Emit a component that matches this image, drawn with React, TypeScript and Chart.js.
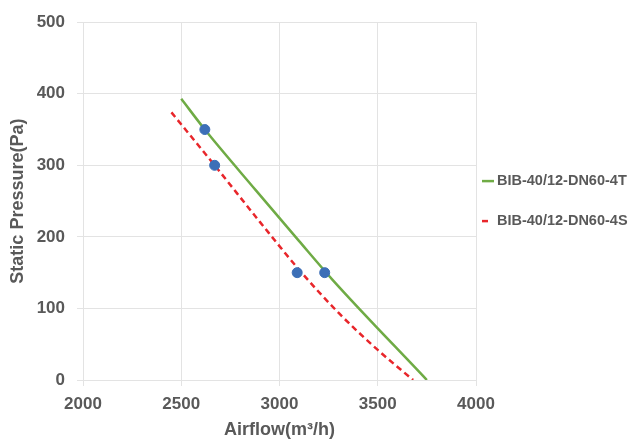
import React, { useEffect, useRef } from "react";
import { Chart, registerables } from "chart.js";

Chart.register(...registerables);

const xTicks = [2000, 2500, 3000, 3500, 4000];
const yTicks = [0, 100, 200, 300, 400, 500];

const seriesNames = ["BIB-40/12-DN60-4T", "BIB-40/12-DN60-4S"];

const flow4T = [2500, 2620, 2880, 3100, 3270, 3750];
const pressure4T = [393, 350, 265, 194, 140, 0];

const flow4S = [2450, 2670, 2900, 3100, 3300, 3500, 3680];
const pressure4S = [374, 300, 221, 154, 94, 42, 0];

const pointFlow = [2620, 2670, 3090, 3230];
const pointPressure = [350, 300, 150, 150];

const GREEN = "#6fab45";
const RED = "#e8262b";
const BLUE = "#3c6fb7";
const TEXT = "#595959";
const GRID = "#e3e3e3";

const toXY = (xs: number[], ys: number[]) => xs.map((x, i) => ({ x, y: ys[i] }));

const legendPlugin = {
  id: "customLegend",
  afterDraw(chart: any) {
    const ctx = chart.ctx;
    const area = chart.chartArea;
    const items = chart.data.datasets.filter((d: any) => d.legendShow);
    const startX = area.right + 6;
    const centerY = (area.top + area.bottom) / 2;
    const gap = 40;
    ctx.save();
    items.forEach((d: any, i: number) => {
      const y = centerY + (i - (items.length - 1) / 2) * gap;
      ctx.strokeStyle = d.borderColor;
      ctx.lineWidth = d.borderWidth;
      ctx.setLineDash(d.borderDash || []);
      ctx.beginPath();
      ctx.moveTo(startX, y);
      ctx.lineTo(startX + (d.borderDash ? 6 : 12), y);
      ctx.stroke();
      ctx.setLineDash([]);
      ctx.fillStyle = TEXT;
      ctx.font = "bold 14.5px 'Liberation Sans', Arial, sans-serif";
      ctx.textBaseline = "middle";
      ctx.textAlign = "left";
      ctx.fillText(d.label, startX + 15, y);
    });
    ctx.restore();
  },
};

export default function App() {
  const ref = useRef<HTMLCanvasElement | null>(null);
  useEffect(() => {
    if (!ref.current) return;
    Chart.defaults.font.family = "'Liberation Sans', Arial, sans-serif";
    const chart = new Chart(ref.current, {
      type: "scatter",
      data: {
        datasets: [
          {
            label: "points",
            data: toXY(pointFlow, pointPressure),
            backgroundColor: BLUE,
            borderColor: BLUE,
            pointRadius: 5,
            pointHoverRadius: 5,
            showLine: false,
            order: 0,
          } as any,
          {
            label: seriesNames[0],
            data: toXY(flow4T, pressure4T),
            borderColor: GREEN,
            borderWidth: 2.5,
            pointRadius: 0,
            showLine: true,
            cubicInterpolationMode: "monotone",
            legendShow: true,
            order: 1,
          } as any,
          {
            label: seriesNames[1],
            data: toXY(flow4S, pressure4S),
            borderColor: RED,
            borderWidth: 2.5,
            borderDash: [6, 4],
            pointRadius: 0,
            showLine: true,
            cubicInterpolationMode: "monotone",
            legendShow: true,
            order: 2,
          } as any,
        ],
      },
      options: {
        animation: false,
        responsive: false,
        maintainAspectRatio: false,
        layout: { padding: { top: 21, right: 156, bottom: 0, left: 0 } },
        plugins: { legend: { display: false }, tooltip: { enabled: false } },
        scales: {
          x: {
            type: "linear",
            min: xTicks[0],
            max: xTicks[xTicks.length - 1],
            afterBuildTicks: (s: any) => {
              s.ticks = xTicks.map((v) => ({ value: v }));
            },
            afterFit: (s: any) => {
              s.height = 64;
            },
            grid: { color: GRID, tickLength: 6, drawTicks: true },
            border: { color: GRID },
            ticks: {
              color: TEXT,
              padding: 8,
              font: { size: 17, weight: "bold" },
              maxRotation: 0,
              callback: (v: any) => String(v),
            },
            title: {
              display: true,
              text: "Airflow(m³/h)",
              color: TEXT,
              font: { size: 18, weight: "bold" },
              padding: { top: 0, bottom: 3 },
            },
          },
          y: {
            type: "linear",
            min: yTicks[0],
            max: yTicks[yTicks.length - 1],
            afterBuildTicks: (s: any) => {
              s.ticks = yTicks.map((v) => ({ value: v }));
            },
            afterFit: (s: any) => {
              s.width = 83;
            },
            grid: { color: GRID, tickLength: 6 },
            border: { color: GRID },
            ticks: {
              color: TEXT,
              padding: 12,
              font: { size: 17, weight: "bold" },
              callback: (v: any) => String(v),
            },
            title: {
              display: true,
              text: "Static Pressure(Pa)",
              color: TEXT,
              font: { size: 18, weight: "bold" },
              padding: { top: 7, bottom: 0 },
            },
          },
        },
      },
      plugins: [legendPlugin],
    });
    return () => chart.destroy();
  }, []);
  return (
    <div style={{ position: "fixed", left: 0, top: 0, width: 632, height: 444, background: "#fff", overflow: "hidden" }}>
      <canvas ref={ref} width={632} height={444} style={{ display: "block", width: 632, height: 444 }} />
    </div>
  );
}
